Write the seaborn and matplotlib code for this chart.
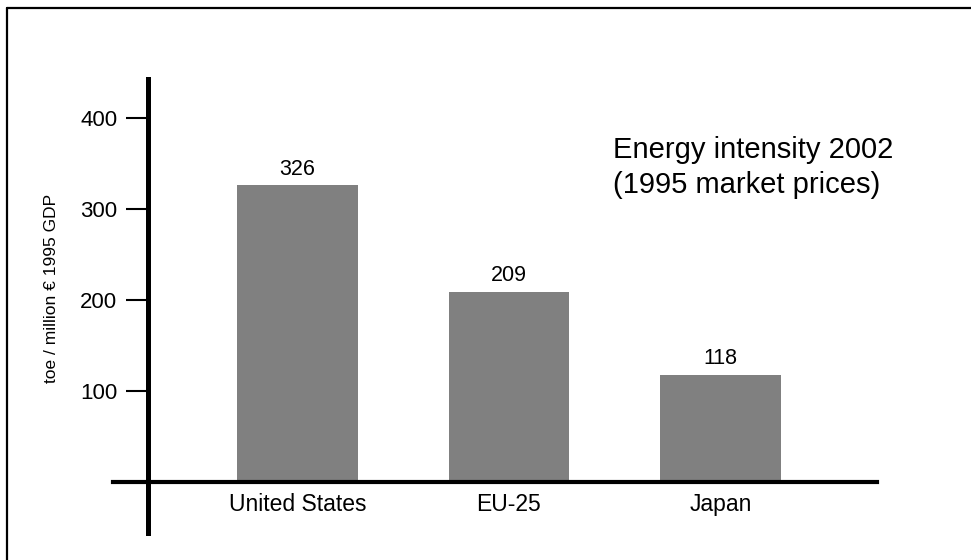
import matplotlib
matplotlib.use("Agg")
import matplotlib.pyplot as plt
import seaborn as sns
import pandas as pd
from matplotlib.lines import Line2D

countries = ["United States", "EU-25", "Japan"]
values = [326, 209, 118]
yticks = [100, 200, 300, 400]
title_text = "Energy intensity 2002\n(1995 market prices)"
ylabel_text = "toe / million \u20ac 1995 GDP"

sns.set_theme(style="white")
plt.rcParams["font.family"] = ["Liberation Sans", "DejaVu Sans"]

W, H = 971, 560
fig = plt.figure(figsize=(W / 100, H / 100), dpi=100)
ax = fig.add_axes([0, 0, 1, 1])
ax.set_facecolor("none")

df = pd.DataFrame({"country": countries, "value": values})
sns.barplot(data=df, x="country", y="value", color="#808080", saturation=1,
            width=0.572, edgecolor="none", ax=ax)

# pixel mapping
x0, dx = 297.5, 211.5
y0, dy = 482.0, 0.91
ax.set_xlim(-x0 / dx, (W - x0) / dx)
ax.set_ylim((y0 - H) / dy, y0 / dy)

for s in ["top", "right"]:
    ax.spines[s].set_visible(False)
ax.spines["left"].set_position(("data", (148 - x0) / dx))
ax.spines["left"].set_bounds((y0 - 533) / dy, (y0 - 79) / dy)
ax.spines["left"].set_linewidth(3.6)
ax.spines["left"].set_color("black")
ax.spines["bottom"].set_position(("data", 0))
ax.spines["bottom"].set_bounds((113 - x0) / dx, (877 - x0) / dx)
ax.spines["bottom"].set_linewidth(3.0)
ax.spines["bottom"].set_color("black")

ax.set_yticks(yticks)
ax.set_yticklabels([str(t) for t in yticks])
ax.tick_params(axis="y", direction="out", length=15.5, width=1.5, color="black",
               pad=6.5, labelsize=16, labelcolor="black", left=True)
ax.tick_params(axis="x", length=0, pad=8, labelsize=16.5, labelcolor="black")
ax.set_xlabel("")
ax.set_ylabel("")

ax.bar_label(ax.containers[0], labels=[str(v) for v in values], padding=4,
             fontsize=15.5, color="black")

fig.text(613 / W, 1 - 136 / H, title_text, ha="left", va="top", fontsize=21,
         linespacing=1.33, color="black")
fig.text(52 / W, 1 - 288 / H, ylabel_text, rotation=90, ha="center", va="center",
         fontsize=12.5, color="black")

# partial frame (top and left)
fig.add_artist(Line2D([7 / W, 1], [1 - 8 / H, 1 - 8 / H], color="black", lw=1.6,
                      transform=fig.transFigure))
fig.add_artist(Line2D([7 / W, 7 / W], [0, 1 - 8 / H], color="black", lw=1.6,
                      transform=fig.transFigure))

fig.savefig("out.png", dpi=100)
